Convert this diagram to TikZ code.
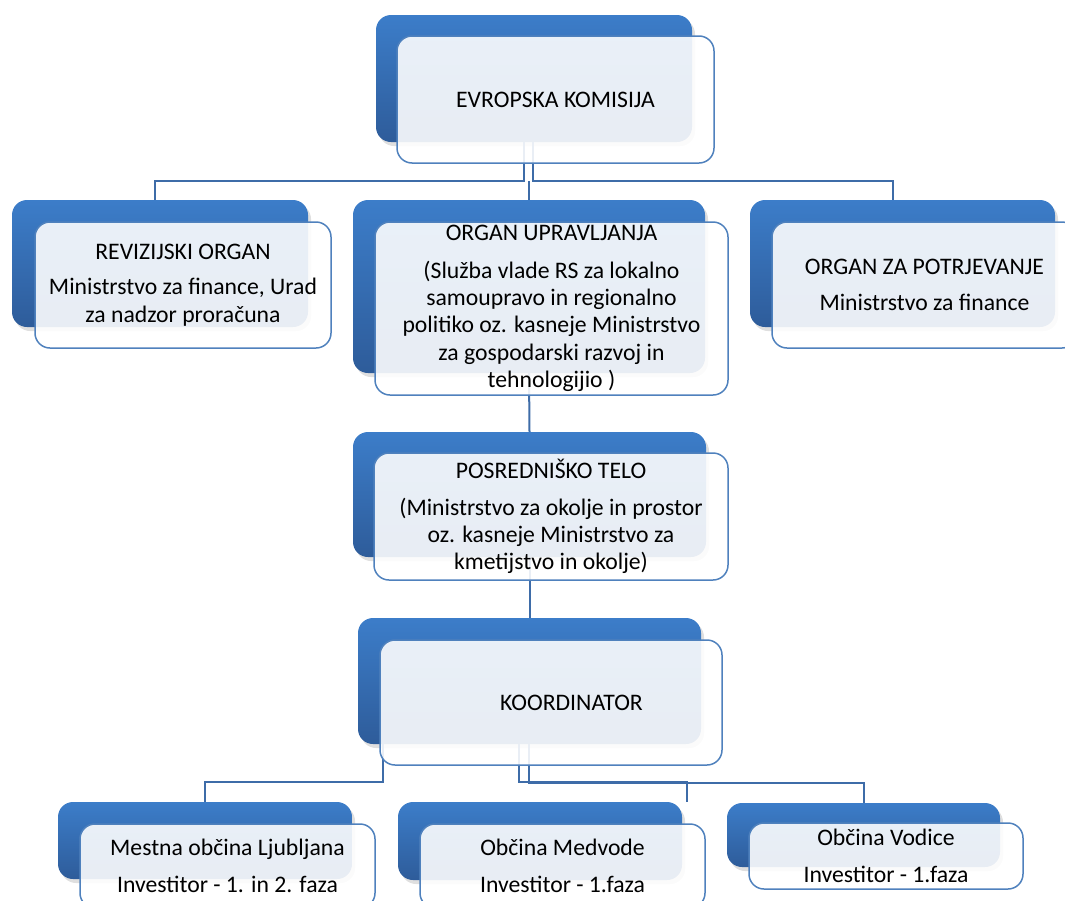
\documentclass[tikz,border=0pt]{standalone}
\usepackage{fontspec}
\setmainfont{Carlito}
\usetikzlibrary{shadows}
\definecolor{bluetop}{RGB}{60,125,201}
\definecolor{bluebot}{RGB}{46,92,154}
\definecolor{frameblue}{RGB}{79,129,189}
\definecolor{connblue}{RGB}{62,108,168}
\begin{document}
\begin{tikzpicture}[x=1pt,y=-1pt,
  bluebox/.style={rectangle, rounded corners=15pt, top color=bluetop, bottom color=bluebot,
    draw=none, inner sep=0pt,
    drop shadow={shadow xshift=3pt, shadow yshift=-4pt, opacity=0.25}},
  frontbox/.style={rectangle, rounded corners=15pt, draw=frameblue, line width=1.5pt,
    fill=white, fill opacity=0.89, text opacity=1, align=center, inner sep=0pt,
    font=\fontsize{23.7pt}{27.3pt}\selectfont},
  conn/.style={draw=connblue, line width=2pt}]
\useasboundingbox (0,0) rectangle (1065,900);

% back (blue) boxes
\node[bluebox, minimum width=316pt, minimum height=127pt] (ekb)  at (534,78.5) {};
\node[bluebox, minimum width=296pt, minimum height=127pt] (revb) at (160,263.5) {};
\node[bluebox, minimum width=352pt, minimum height=173pt] (oub)  at (529,286.5) {};
\node[bluebox, minimum width=305pt, minimum height=127pt] (opb)  at (902.5,263.5) {};
\node[bluebox, minimum width=353pt, minimum height=125pt] (ptb)  at (529.5,494.5) {};
\node[bluebox, minimum width=343pt, minimum height=126pt] (kob)  at (529.5,681) {};
\node[bluebox, minimum width=294pt, minimum height=77pt]  (molb) at (205,840.5) {};
\node[bluebox, minimum width=284pt, minimum height=78pt]  (medb) at (540,841) {};
\node[bluebox, minimum width=273pt, minimum height=64pt]  (vodb) at (863.5,835) {};

% connectors
\draw[conn] ([xshift=-10pt]ekb.south) -- ++(0,39) -| ([xshift=-5pt]revb.north);
\draw[conn] ([xshift=-1pt]ekb.south) -- ++(0,39) -| ([xshift=-9.5pt]opb.north);
\draw[conn] (oub.north) -- ++(0,-19);
\draw[conn] (oub.south) -- (ptb.north);
\draw[conn] (ptb.south) -- (kob.north);
\draw[conn] ([xshift=-146.5pt]kob.south) -- ++(0,38) -| (molb.north);
\draw[conn] ([xshift=-10.5pt]kob.south) -- ++(0,38) -| ([xshift=147pt]medb.north);
\draw[conn] ([xshift=-0.5pt]kob.south) -- ++(0,39) -| (vodb.north);

% front boxes
\node[frontbox, minimum width=317pt, minimum height=127pt] (ek) at (555.5,99.5) {EVROPSKA KOMISIJA};
\node[frontbox, minimum width=296pt, minimum height=126pt] (rev) at (183,285)
  {REVIZIJSKI ORGAN\\[8pt]Ministrstvo za finance, Urad\\za nadzor proračuna};
\node[frontbox, minimum width=353pt, minimum height=173pt] (ou) at (551.5,308.5)
  {ORGAN UPRAVLJANJA\\[10pt](Služba vlade RS za lokalno\\samoupravo in regionalno\\politiko oz. kasneje Ministrstvo\\za gospodarski razvoj in\\tehnologijio )};
\node[frontbox, minimum width=305pt, minimum height=126pt] (op) at (924.5,285)
  {ORGAN ZA POTRJEVANJE\\[8pt]Ministrstvo za finance};
\node[frontbox, minimum width=354pt, minimum height=127pt] (pt) at (551,516.5)
  {POSREDNIŠKO TELO\\[9pt](Ministrstvo za okolje in prostor\\oz. kasneje Ministrstvo za\\kmetijstvo in okolje)};
\node[frontbox, minimum width=342pt, minimum height=125pt] (ko) at (551,702.5)
  {\hspace*{41pt}KOORDINATOR};
\node[frontbox, minimum width=295pt, minimum height=84pt] (mol) at (227.5,866)
  {Mestna občina Ljubljana\\[10pt]Investitor - 1. in 2. faza};
\node[frontbox, minimum width=285pt, minimum height=84pt] (med) at (562.5,866)
  {Občina Medvode\\[10pt]Investitor - 1.faza};
\node[frontbox, minimum width=274pt, minimum height=66pt] (vod) at (886,856)
  {Občina Vodice\\[10pt]Investitor - 1.faza};
\end{tikzpicture}
\end{document}
